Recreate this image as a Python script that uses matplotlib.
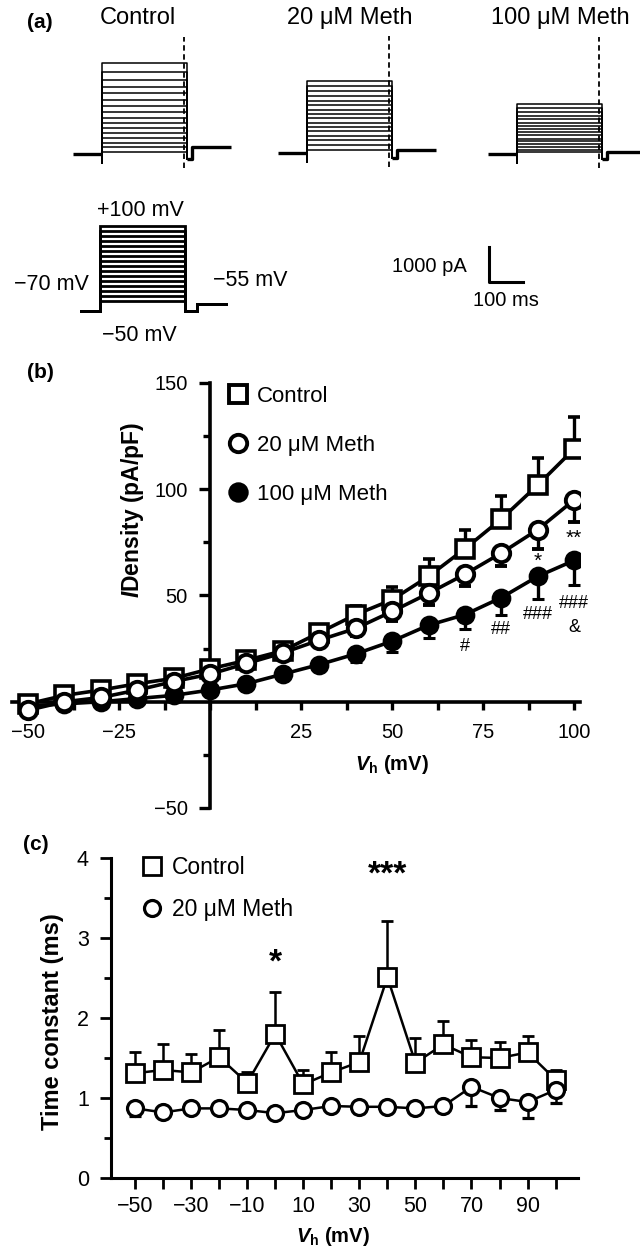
import numpy as np
import matplotlib
matplotlib.use('Agg')
import matplotlib.pyplot as plt
from matplotlib.lines import Line2D

plt.rcParams['font.family'] = ['Liberation Sans', 'DejaVu Sans']
plt.rcParams['mathtext.fontset'] = 'custom'
plt.rcParams['mathtext.it'] = 'Liberation Sans:italic:bold'
plt.rcParams['mathtext.rm'] = 'Liberation Sans:bold'
plt.rcParams['mathtext.bf'] = 'Liberation Sans:bold'

W, H = 640, 1252

# (a) raw traces: steady-state current of each sweep (pA)
sweeps_mv = list(range(-50, 101, 10))
trace_titles = ['Control', '20 μM Meth', '100 μM Meth']
amp_control = [50, 200, 310, 460, 600, 740, 890, 1030, 1200, 1370, 1540, 1740, 1910, 2110, 2340, 2600]
amp_meth20 = [100, 230, 360, 490, 620, 750, 870, 990, 1110, 1230, 1360, 1490, 1630, 1780, 1920, 2060]
amp_meth100 = [50, 120, 200, 280, 360, 440, 530, 620, 710, 800, 900, 1000, 1100, 1210, 1320, 1430]
tail_pa = [200, 100, 60]
holding_mv = -70
tail_mv = -55

# (b) current density vs Vh
vh_b = list(range(-50, 101, 10))
iv_control = [-1, 3, 5.5, 8.5, 11, 15.5, 19.5, 24, 32.5, 41, 48, 59, 72, 86, 102, 119]
iv_control_err = [1.5, 1.5, 1.5, 2, 2, 2.5, 2.5, 3, 3, 4, 6, 8, 9, 11, 12.5, 15]
iv_meth20 = [-4, 0, 2, 5.5, 9.5, 13, 18, 23, 29, 34.5, 42.5, 51, 60, 70, 81, 95]
iv_meth20_err = [1, 1, 1, 1.5, 1.5, 2, 2, 2.5, 3, 3.5, 4.5, 5.5, 5.5, 6, 9, 10.5]
iv_meth100 = [-2, -1, 0, 1.5, 3, 5.5, 8.5, 13, 17.5, 22.5, 28.5, 36, 41, 49, 59, 66.5]
iv_meth100_err = [0.5, 0.5, 0.5, 1, 1, 1.5, 1.5, 2, 2, 4, 5, 6, 7, 8, 10.5, 11.5]
sig_b = [(100, 77, '**'), (90, 66, '*'), (70, 26, '#'), (80, 34, '##'),
         (90, 41, '###'), (100, 46, '###'), (100, 35, '&')]

# (c) time constant vs Vh
vh_c = list(range(-50, 101, 10))
tau_control = [1.31, 1.35, 1.32, 1.51, 1.19, 1.80, 1.17, 1.32, 1.45, 2.51, 1.44, 1.67, 1.51, 1.50, 1.57, 1.23]
tau_control_err = [0.26, 0.32, 0.23, 0.34, 0.13, 0.53, 0.18, 0.25, 0.33, 0.70, 0.31, 0.29, 0.22, 0.20, 0.21, 0.12]
tau_meth20 = [0.87, 0.82, 0.87, 0.87, 0.85, 0.81, 0.85, 0.90, 0.89, 0.89, 0.87, 0.90, 1.14, 1.00, 0.95, 1.10]
tau_meth20_err = [0.10, 0.05, 0.05, 0.05, 0.05, 0.05, 0.05, 0.05, 0.08, 0.05, 0.05, 0.08, 0.24, 0.15, 0.20, 0.16]
sig_c = [(0, 2.69, '*'), (40, 3.79, '***')]

fig = plt.figure(figsize=(W / 100, H / 100), dpi=100)


def px_axes(l, t, r, b):
    return fig.add_axes([l / W, 1 - b / H, (r - l) / W, (b - t) / H])


def ftext(x, y, s, **kw):
    fig.text(x / W, 1 - y / H, s, **kw)


# ---------- (a) ----------
ftext(40, 22, '(a)', fontsize=15, fontweight='bold', ha='center', va='center')
trace_pos = [(102, 154), (307, 153), (517, 154)]
for amps, title, (x0, y0), tail in zip([amp_control, amp_meth20, amp_meth100], trace_titles, trace_pos, tail_pa):
    ax = px_axes(x0 - 34, y0 - 126, x0 + 136, y0 + 21)
    ax.set_xlim(-100, 400)
    ax.set_ylim(-600, 3600)
    ax.axis('off')
    for a in amps:
        ax.plot([0, 0, 0, 250, 250], [0, -260, a, a, -150], color='k', lw=1.1)
    ax.plot([-85, 0], [0, 0], color='k', lw=2.4, solid_capstyle='butt')
    ax.plot([250, 265, 265, 378], [-150, -150, tail, tail], color='k', lw=2.4, solid_capstyle='butt')
    ax.plot([240, 240], [-400, 3340], color='k', lw=1.3, ls=(0, (3, 2)), clip_on=False)
    ftext(x0 + 36 + (0 if title == 'Control' else 7), 18, title, fontsize=17, ha='center', va='center')

# voltage protocol
axv = px_axes(66, 216, 236, 326)
axv.set_xlim(-100, 400)
axv.set_ylim(-100, 120)
axv.axis('off')
for v in sweeps_mv:
    axv.plot([-56, 0, 0, 250, 250, 285, 285, 370],
             [holding_mv, holding_mv, v, v, holding_mv, holding_mv, tail_mv, tail_mv],
             color='k', lw=2.0, solid_joinstyle='miter')
ftext(140, 210, '+100 mV', fontsize=15.5, ha='center', va='center')
ftext(51, 285, '−70 mV', fontsize=15.5, ha='center', va='center')
ftext(250, 280, '−55 mV', fontsize=15.5, ha='center', va='center')
ftext(139, 335, '−50 mV', fontsize=15.5, ha='center', va='center')

# scale bar
axs = px_axes(480, 240, 540, 290)
axs.set_xlim(0, 60 / 0.34)
axs.set_ylim(0, 50 / 0.035)
axs.axis('off')
bar_ms, bar_pa = 100, 1000
axs.plot([26.5, 26.5, 26.5 + bar_ms], [228.6 + bar_pa, 228.6, 228.6], color='k', lw=2.2)
ftext(467, 267, '1000 pA', fontsize=14.5, ha='right', va='center')
ftext(506, 300, '100 ms', fontsize=14.5, ha='center', va='center')

# ---------- (b) ----------
ftext(40, 372, '(b)', fontsize=15, fontweight='bold', ha='center', va='center')
axb = px_axes(12, 383, 580, 808)
axb.set_xlim(-54.4, 101.6)
axb.set_ylim(-50, 150)
for s in ['top', 'right']:
    axb.spines[s].set_visible(False)
axb.spines['left'].set_position(('data', 0))
axb.spines['bottom'].set_position(('data', 0))
for s in ['left', 'bottom']:
    axb.spines[s].set_linewidth(2.6)
axb.set_xticks([-50, -25, 25, 50, 75, 100])
axb.set_xticks([-37.5, -12.5, 0, 12.5, 37.5, 62.5, 87.5], minor=True)
axb.set_yticks([-50, 50, 100, 150])
axb.set_yticks([-25, 25, 75, 125], minor=True)
axb.tick_params(axis='x', which='both', direction='out', length=6, width=2.4, labelsize=14.5, pad=9)
axb.tick_params(axis='y', which='major', direction='out', length=8, width=2.4, labelsize=14.5, pad=8)
axb.tick_params(axis='y', which='minor', direction='out', length=5, width=2.4)

zb = np.zeros(len(vh_b))
axb.errorbar(vh_b, iv_meth100, yerr=[iv_meth100_err, zb], fmt='-o', color='k', mfc='k', mec='k',
             ms=12, mew=2.2, lw=2.6, elinewidth=2.4, capsize=4.5, capthick=2.4, zorder=3)
axb.errorbar(vh_b, iv_control, yerr=[zb, iv_control_err], fmt='-s', color='k', mfc='white', mec='k',
             ms=12.5, mew=2.6, lw=2.6, elinewidth=2.4, capsize=4.5, capthick=2.4, zorder=4)
axb.errorbar(vh_b, iv_meth20, yerr=[iv_meth20_err, zb], fmt='-o', color='k', mfc='white', mec='k',
             ms=12.5, mew=2.8, lw=2.6, elinewidth=2.4, capsize=4.5, capthick=2.4, zorder=5)
for x, y, s in sig_b:
    axb.text(x, y, s, fontsize=13 if '#' in s or '&' in s else 15, ha='center', va='center')

hb = [Line2D([], [], ls='none', marker='s', ms=12.5, mfc='white', mec='k', mew=2.8),
      Line2D([], [], ls='none', marker='o', ms=12.5, mfc='white', mec='k', mew=2.8),
      Line2D([], [], ls='none', marker='o', ms=12.5, mfc='k', mec='k', mew=2.2)]
fig.legend(hb, ['Control', '20 μM Meth', '100 μM Meth'], loc='upper left',
           bbox_to_anchor=(229 / W, 1 - 386 / H), frameon=False, fontsize=16,
           handlelength=0.8, handletextpad=0.45, labelspacing=1.25, borderpad=0, borderaxespad=0)
ftext(133, 510, r'$I$Density (pA/pF)', fontsize=16.5, fontweight='bold', rotation=90, ha='center', va='center')
ftext(392, 765, r'$V_{\mathrm{h}}$ (mV)', fontsize=14.5, fontweight='bold', ha='center', va='center')

# ---------- (c) ----------
ftext(36, 845, '(c)', fontsize=15, fontweight='bold', ha='center', va='center')
axc = px_axes(111, 858, 578, 1178)
axc.set_xlim(-58.6, 108)
axc.set_ylim(0, 4)
for s in ['top', 'right']:
    axc.spines[s].set_visible(False)
for s in ['left', 'bottom']:
    axc.spines[s].set_linewidth(2.2)
axc.set_xticks(vh_c)
axc.set_xticklabels([str(v).replace('-', '−') if v % 20 != 0 else '' for v in vh_c])
axc.set_yticks([0, 1, 2, 3, 4])
axc.set_yticks([0.5, 1.5, 2.5, 3.5], minor=True)
axc.tick_params(axis='x', which='major', direction='out', length=8, width=2.0, labelsize=15.5, pad=5)
axc.tick_params(axis='y', which='major', direction='out', length=8, width=2.0, labelsize=15.5, pad=8)
axc.tick_params(axis='y', which='minor', direction='out', length=5, width=2.0)

zc = np.zeros(len(vh_c))
axc.errorbar(vh_c, tau_control, yerr=[zc, tau_control_err], fmt='-s', color='k', mfc='white', mec='k',
             ms=13, mew=2.0, lw=1.8, elinewidth=1.8, capsize=4.5, capthick=1.8, zorder=3)
axc.errorbar(vh_c, tau_meth20, yerr=[tau_meth20_err, zc], fmt='-o', color='k', mfc='white', mec='k',
             ms=11.5, mew=2.3, lw=1.8, elinewidth=1.8, capsize=4.5, capthick=1.8, zorder=4)
for x, y, s in sig_c:
    axc.text(x, y, s, fontsize=24, fontweight='bold', ha='center', va='center')

hc = [Line2D([], [], ls='none', marker='s', ms=13, mfc='white', mec='k', mew=2.0),
      Line2D([], [], ls='none', marker='o', ms=11.5, mfc='white', mec='k', mew=2.3)]
fig.legend(hc, ['Control', '20 μM Meth'], loc='upper left',
           bbox_to_anchor=(143 / W, 1 - 856 / H), frameon=False, fontsize=16.5,
           handlelength=0.8, handletextpad=0.45, labelspacing=0.85, borderpad=0, borderaxespad=0)
ftext(53, 1022, 'Time constant (ms)', fontsize=17, fontweight='bold', rotation=90, ha='center', va='center')
ftext(333, 1237, r'$V_{\mathrm{h}}$ (mV)', fontsize=14.5, fontweight='bold', ha='center', va='center')

fig.savefig('out.png', dpi=100)
